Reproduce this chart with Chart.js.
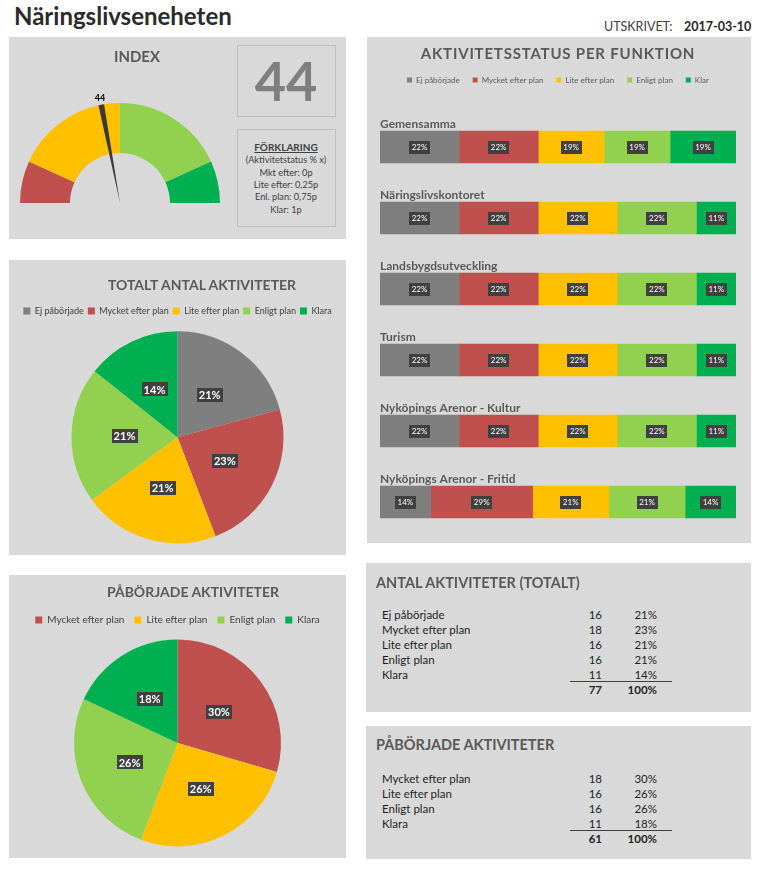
<!DOCTYPE html>
<html><head><meta charset="utf-8">
<script src="https://cdn.jsdelivr.net/npm/chart.js@4.4.1/dist/chart.umd.min.js"></script>
<style>
html,body{margin:0;padding:0}
body{width:760px;height:869px;background:#fff;position:relative;overflow:hidden;font-family:Lato,'Open Sans',sans-serif}
.panel{position:absolute;background:#d9d9d9}
.box{position:absolute;border:1px solid #bfbfbf;box-sizing:border-box}
.t{position:absolute;white-space:nowrap;line-height:1}
canvas{position:absolute}
</style>
</head><body>
<div class="panel" style="left:9px;top:37px;width:337px;height:202px"></div>
<div class="panel" style="left:367px;top:37px;width:384px;height:506px"></div>
<div class="panel" style="left:9px;top:260px;width:337px;height:295px"></div>
<div class="panel" style="left:9px;top:575px;width:337px;height:283px"></div>
<div class="panel" style="left:366px;top:563px;width:385px;height:149px"></div>
<div class="panel" style="left:366px;top:726px;width:385px;height:133px"></div>
<div class="box" style="left:237px;top:45px;width:99px;height:72px"></div>
<div class="box" style="left:237px;top:129px;width:99px;height:98px"></div>
<canvas id="gauge" width="220" height="140" style="left:10px;top:83px"></canvas>
<canvas id="needle" width="220" height="140" style="left:10px;top:83px"></canvas>
<canvas id="bars" width="384" height="506" style="left:367px;top:37px"></canvas>
<canvas id="pie1" width="337" height="289" style="left:9px;top:260px"></canvas>
<canvas id="pie2" width="337" height="276" style="left:9px;top:575px"></canvas>
<script>
// ---- data ----
const pageTitle = 'Näringslivseneheten';
const printedLabel = 'UTSKRIVET:';
const printedDate = '2017-03-10';
const statusLabels = ['Ej påbörjade','Mycket efter plan','Lite efter plan','Enligt plan','Klara'];
const barLegendLabels = ['Ej påbörjade','Mycket efter plan','Lite efter plan','Enligt plan','Klar'];
const statusColors = ['#7f7f7f','#c0504d','#ffc000','#92d050','#00b050'];
const functions = ['Gemensamma','Näringslivskontoret','Landsbygdsutveckling','Turism','Nyköpings Arenor - Kultur','Nyköpings Arenor - Fritid'];
const ejPaborjade = [6,2,2,2,2,2];
const mycketEfter = [6,2,2,2,2,4];
const liteEfter   = [5,2,2,2,2,3];
const enligtPlan  = [5,2,2,2,2,3];
const klara       = [5,1,1,1,1,2];
const totalCounts = [16,18,16,16,11];
const startedLabels = ['Mycket efter plan','Lite efter plan','Enligt plan','Klara'];
const startedColors = ['#c0504d','#ffc000','#92d050','#00b050'];
const startedCounts = [18,16,16,11];
const gaugeBands = [13.6,36.4,36.4,13.6];
const gaugeColors = ['#c0504d','#ffc000','#92d050','#00b050'];
const indexValue = 44;
const explanationLines = ['(Aktivitetstatus % x)','Mkt efter: 0p','Lite efter: 0,25p','Enl. plan: 0,75p','Klar: 1p'];

// ---- helpers ----
const FONT = "Lato, 'Open Sans', sans-serif";
Chart.defaults.font.family = FONT;
function txt(s, x, base, size, o = {}) {
  const d = document.createElement('div');
  d.className = 't';
  d.textContent = s;
  d.style.fontSize = size + 'px';
  d.style.fontWeight = o.weight || 400;
  d.style.color = o.color || '#1f1f1f';
  if (o.ls) d.style.letterSpacing = o.ls + 'px';
  if (o.underline) d.style.textDecoration = 'underline';
  d.style.top = (base - 0.887 * size) + 'px';
  if (o.align === 'center') { d.style.left = x + 'px'; d.style.transform = 'translateX(-50%)'; }
  else if (o.align === 'right') { d.style.right = (760 - x) + 'px'; }
  else d.style.left = x + 'px';
  document.body.appendChild(d);
  return d;
}
function tag(ctx, text, x, y, font, padX, h) {
  ctx.save();
  ctx.font = font;
  const w = Math.round(ctx.measureText(text).width + padX * 2);
  ctx.fillStyle = '#404040';
  ctx.fillRect(Math.round(x - w / 2), Math.round(y - h / 2), w, h);
  ctx.fillStyle = '#ffffff';
  ctx.textAlign = 'center';
  ctx.textBaseline = 'middle';
  ctx.fillText(text, x, y + 0.5);
  ctx.restore();
}

// ---- static texts ----
txt(pageTitle, 14, 25, 24, {weight:700, color:'#2b2b2b'});
txt(printedLabel, 604, 32, 12.5, {color:'#404040'});
txt(printedDate, 684, 32, 12.5, {weight:700, color:'#262626'});
txt('INDEX', 137, 62, 15, {weight:700, color:'#595959', align:'center'});
txt(String(indexValue), 286, 102, 54, {weight:700, color:'#7f7f7f', align:'center'});
txt('FÖRKLARING', 286, 151, 10, {weight:700, color:'#404040', align:'center', underline:true});
explanationLines.forEach((l, i) => txt(l, 286, 163.5 + i * 12.3, 9.2, {color:'#404040', align:'center'}));
txt('AKTIVITETSSTATUS PER FUNKTION', 558, 59, 15, {weight:700, color:'#595959', align:'center', ls:0.8});
txt('TOTALT ANTAL AKTIVITETER', 202, 290, 14, {weight:700, color:'#595959', align:'center'});
txt('PÅBÖRJADE AKTIVITETER', 193, 597, 14, {weight:700, color:'#595959', align:'center'});

function makeTable(title, titleBase, labels, counts, firstBase, lineY) {
  const total = counts.reduce((a, b) => a + b, 0);
  txt(title, 376, titleBase, 14.5, {weight:700, color:'#595959'});
  labels.forEach((l, i) => {
    const b = firstBase + i * 15;
    txt(l, 382, b, 11.5);
    txt(String(counts[i]), 602, b, 11.5, {align:'right'});
    txt(Math.round(counts[i] / total * 100) + '%', 657, b, 11.5, {align:'right'});
  });
  const ln = document.createElement('div');
  ln.style.cssText = 'position:absolute;left:570px;width:102px;height:1px;background:#404040;top:' + lineY + 'px';
  document.body.appendChild(ln);
  const tb = firstBase + labels.length * 15;
  txt(String(total), 602, tb, 11.5, {align:'right', weight:700});
  txt('100%', 657, tb, 11.5, {align:'right', weight:700});
}
makeTable('ANTAL AKTIVITETER (TOTALT)', 589, statusLabels, totalCounts, 619, 681);
makeTable('PÅBÖRJADE AKTIVITETER', 751, startedLabels, startedCounts, 783, 830);

// ---- gauge ----
new Chart(document.getElementById('gauge'), {
  type: 'doughnut',
  data: { labels: ['a','b','c','d'], datasets: [{ data: gaugeBands, backgroundColor: gaugeColors, borderWidth: 0 }] },
  options: { responsive:false, animation:false, rotation:-90, circumference:180, radius:100, cutout:'50%',
    plugins:{ legend:{display:false}, tooltip:{enabled:false} } }
});
const needleHalf = 0.9;
new Chart(document.getElementById('needle'), {
  type: 'pie',
  data: { labels: ['pre','needle','post'], datasets: [{ data: [indexValue - needleHalf, needleHalf * 2, 100 - indexValue - needleHalf],
    backgroundColor: ['rgba(0,0,0,0)','#3a3a3a','rgba(0,0,0,0)'], borderWidth: 0 }] },
  options: { responsive:false, animation:false, rotation:-90, circumference:180, radius:100,
    plugins:{ legend:{display:false}, tooltip:{enabled:false} } },
  plugins: [{ id:'needleLabel', afterDatasetsDraw(chart) {
    const el = chart.getDatasetMeta(0).data[1];
    const p = el.getProps(['x','y','startAngle','endAngle','outerRadius'], true);
    const a = (p.startAngle + p.endAngle) / 2, r = p.outerRadius + 7;
    const ctx = chart.ctx; ctx.save();
    ctx.font = 'bold 9px ' + FONT; ctx.fillStyle = '#000'; ctx.textAlign = 'center'; ctx.textBaseline = 'middle';
    ctx.fillText(String(indexValue), p.x + Math.cos(a) * r, p.y + Math.sin(a) * r);
    ctx.restore();
  } }]
});

// ---- stacked bars ----
const series = [ejPaborjade, mycketEfter, liteEfter, enligtPlan, klara];
const fnTotals = functions.map((f, i) => series.reduce((s, arr) => s + arr[i], 0));
new Chart(document.getElementById('bars'), {
  type: 'bar',
  data: { labels: functions, datasets: series.map((arr, k) => ({
    label: barLegendLabels[k], data: arr.map((v, i) => v / fnTotals[i] * 100),
    backgroundColor: statusColors[k], borderWidth: 0, barThickness: 32 })) },
  options: { indexAxis:'y', responsive:false, animation:false,
    layout:{ padding:{ top:26, left:13, right:15, bottom:5.5 } },
    plugins:{ tooltip:{enabled:false},
      legend:{ position:'top', labels:{ boxWidth:5, boxHeight:5, padding:13, color:'#595959', font:{size:8} } } },
    scales:{
      x:{ stacked:true, min:0, max:100, position:'top', ticks:{display:false}, grid:{display:false}, border:{display:false},
          afterFit(s){ s.height = 17.5; } },
      y:{ stacked:true, display:false }
    } },
  plugins: [{ id:'barLabels', afterDatasetsDraw(chart) {
    const ctx = chart.ctx;
    chart.data.datasets.forEach((ds, di) => {
      chart.getDatasetMeta(di).data.forEach((el, i) => {
        const p = el.getProps(['x','y','base'], true);
        tag(ctx, Math.round(ds.data[i]) + '%', (p.x + p.base) / 2, p.y, '8px ' + FONT, 2.5, 13);
      });
    });
    ctx.save();
    ctx.font = 'bold 12px ' + FONT; ctx.fillStyle = '#595959'; ctx.textBaseline = 'alphabetic'; ctx.textAlign = 'left';
    const meta = chart.getDatasetMeta(0);
    functions.forEach((f, i) => {
      const el = meta.data[i];
      const p = el.getProps(['y','height'], true);
      ctx.fillText(f, chart.chartArea.left, p.y - p.height / 2 - 3.5);
    });
    ctx.restore();
  } }]
});

// ---- pies ----
const pieLabelPlugin = { id:'pieLabels', afterDatasetsDraw(chart) {
  const ds = chart.data.datasets[0];
  const total = ds.data.reduce((a, b) => a + b, 0);
  chart.getDatasetMeta(0).data.forEach((el, i) => {
    const pos = el.tooltipPosition(true);
    tag(chart.ctx, Math.round(ds.data[i] / total * 100) + '%', pos.x, pos.y, 'bold 11px ' + FONT, 2, 14);
  });
} };
function pie(id, labels, data, colors, radius, padTop, pad, fs) {
  new Chart(document.getElementById(id), {
    type:'pie',
    data:{ labels, datasets:[{ data, backgroundColor:colors, borderWidth:0 }] },
    options:{ responsive:false, animation:false, radius,
      layout:{ padding:{ top:padTop, bottom:0 } },
      plugins:{ tooltip:{enabled:false},
        legend:{ position:'top', labels:{ boxWidth:7, boxHeight:7, padding:pad, color:'#404040', font:{size:fs} } } } },
    plugins:[pieLabelPlugin]
  });
}
pie('pie1', statusLabels, totalCounts, statusColors, 106, 42.5, 4, 9);
pie('pie2', startedLabels, startedCounts, startedColors, 103.5, 30, 10, 10);
</script>
</body></html>
